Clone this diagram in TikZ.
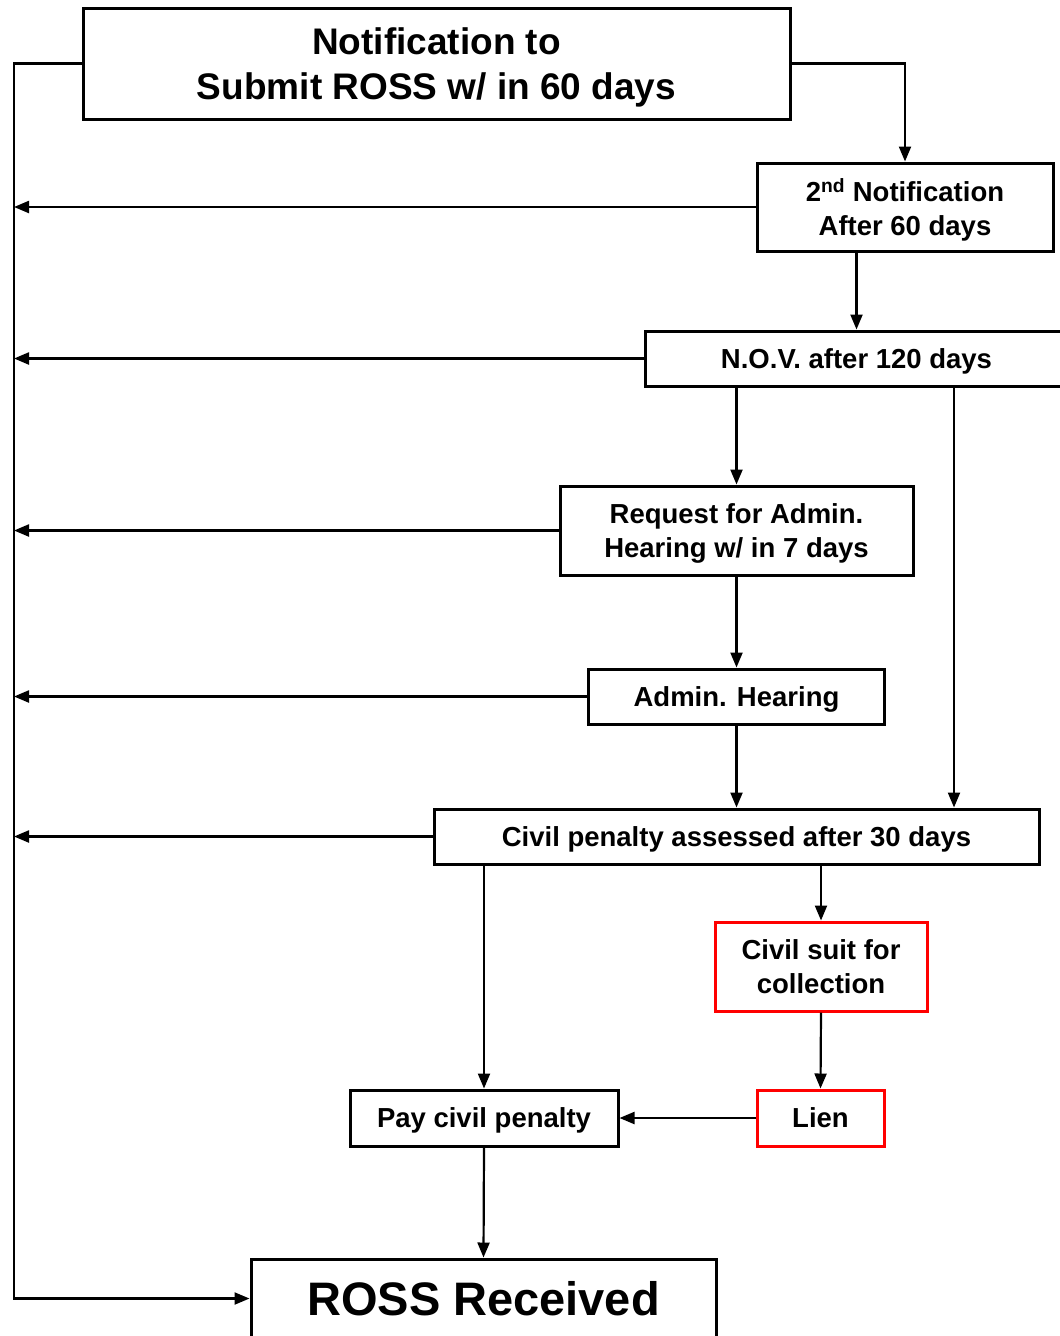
\documentclass[tikz,border=0pt]{standalone}
\usepackage{fontspec}
\setmainfont{Liberation Sans}
\usepackage{tikz}
\usetikzlibrary{arrows.meta}

\begin{document}
\begin{tikzpicture}[x=1pt,y=-1pt,
    box/.style={draw,line width=3pt,inner sep=0pt,align=center,text depth=0pt,font=\bfseries\fontsize{27.5}{34}\selectfont},
    redbox/.style={box,draw=red},
    arr/.style={line width=2.2pt,-{Triangle[length=15pt,width=12pt]}}]
  \useasboundingbox (0,0) rectangle (1060,1336);
  \node[box,minimum width=707,minimum height=111,font=\bfseries\fontsize{37}{45}\selectfont] (F-1) at (436.5,63.5) {Notification to\\Submit ROSS w/ in 60 days};
  \node[box,minimum width=296,minimum height=88] (F-2) at (905,207) {2\textsuperscript{nd} Notification\\After 60 days};
  \node[box,minimum width=423,minimum height=55] (F-3) at (856.5,358.5) {N.O.V. after 120 days};
  \node[box,minimum width=353,minimum height=89] (F-4) at (736.5,530.5) {Request for Admin.\\Hearing w/ in 7 days};
  \node[box,minimum width=296,minimum height=55] (F-5) at (736.5,696.5) {Admin. Hearing};
  \node[box,minimum width=605,minimum height=55] (F-6) at (736.5,836.5) {Civil penalty assessed after 30 days};
  \node[redbox,minimum width=212,minimum height=89] (F-7) at (821,966.5) {Civil suit for\\collection};
  \node[redbox,minimum width=127,minimum height=56] (F-8) at (820.5,1118) {Lien};
  \node[box,minimum width=268,minimum height=56] (F-9) at (484,1118) {Pay civil penalty};
  \node[box,minimum width=465,minimum height=79,font=\bfseries\fontsize{47}{50}\selectfont] (F-10) at (483.5,1298.5) {ROSS Received};
  \coordinate (L) at (14,0);
  \coordinate (R) at (954,0);
  \draw[arr] (F-1.east) -| (F-2.north);
  \draw[arr] (F-2.south -| F-3.north) -- (F-3.north);
  \draw[arr] (F-3.south -| F-4.north) -- (F-4.north);
  \draw[arr] (F-3.south -| R) -- (F-6.north -| R);
  \draw[arr] (F-4.south) -- (F-5.north);
  \draw[arr] (F-5.south) -- (F-6.north);
  \draw[arr] (F-6.south -| F-9.north) -- (F-9.north);
  \draw[arr] (F-6.south -| F-7.north) -- (F-7.north);
  \draw[arr] (F-7.south) -- (F-8.north);
  \draw[arr] (F-8.west) -- (F-9.east);
  \draw[arr] (F-9.south) -- (F-10.north);
  \draw[arr] (F-1.west) -- (F-1.west -| L) -- (F-10.west -| L) -- (F-10.west);
  \draw[arr] (F-2.west) -- (F-2.west -| L);
  \draw[arr] (F-3.west) -- (F-3.west -| L);
  \draw[arr] (F-4.west) -- (F-4.west -| L);
  \draw[arr] (F-5.west) -- (F-5.west -| L);
  \draw[arr] (F-6.west) -- (F-6.west -| L);
\end{tikzpicture}
\end{document}
